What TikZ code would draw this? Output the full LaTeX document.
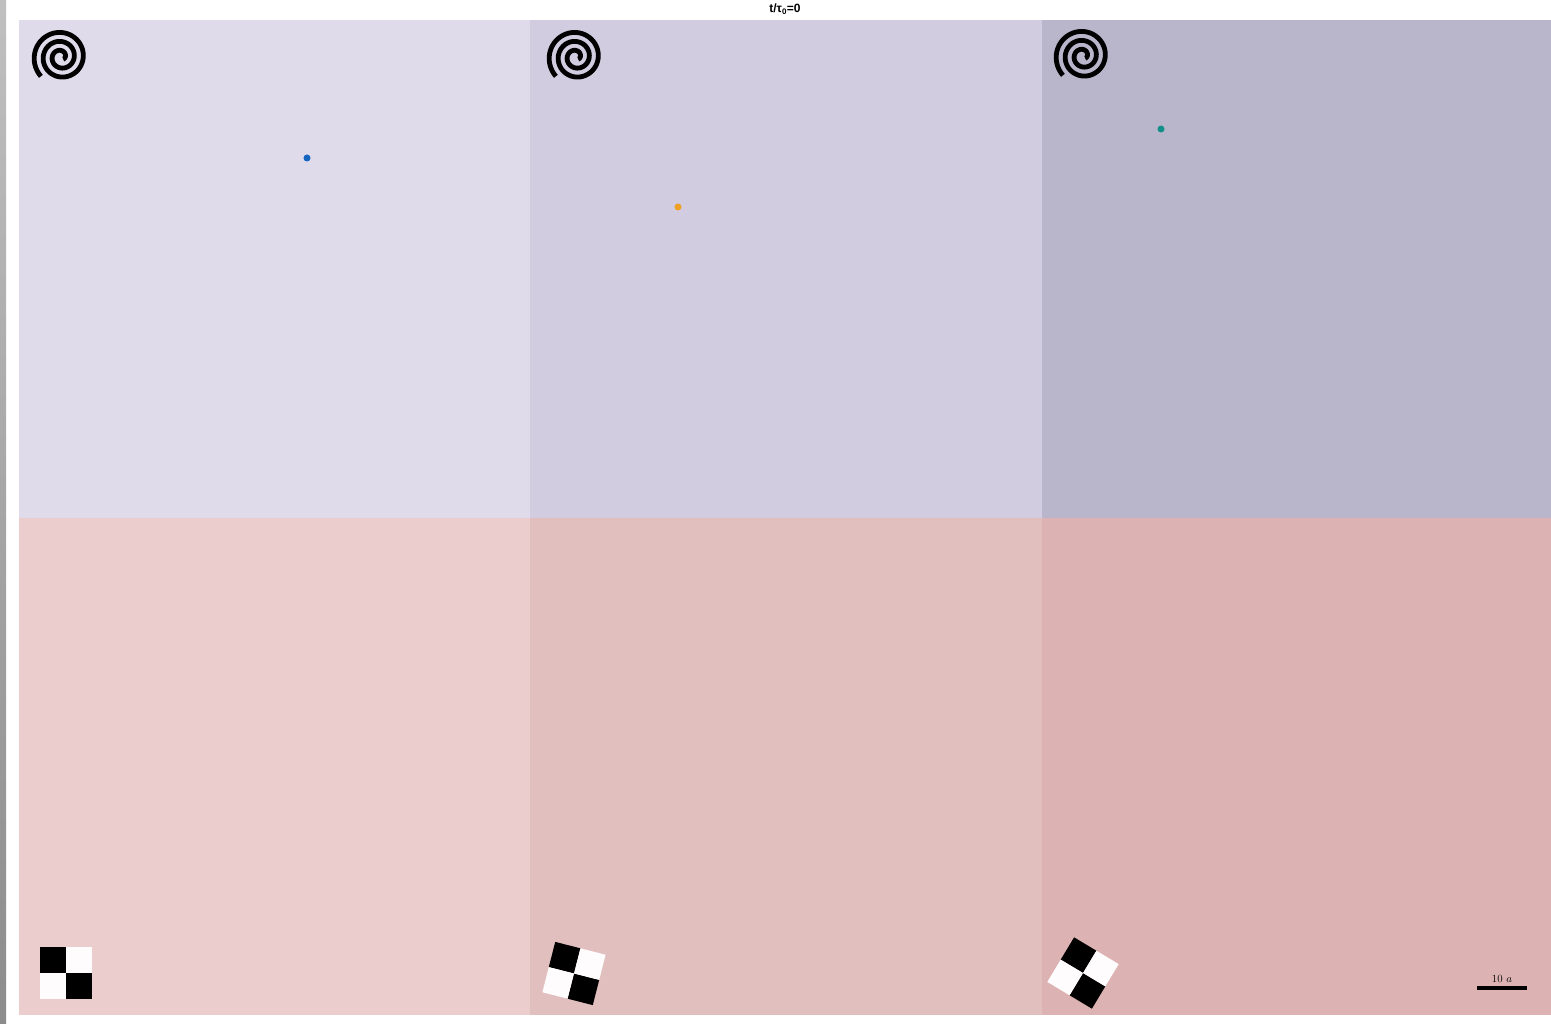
\documentclass[tikz,border=0pt]{standalone}
\usepackage{fontspec}
\newfontfamily\titlefont{Liberation Sans}
\definecolor{tA}{HTML}{DFDBEA}
\definecolor{tB}{HTML}{D1CCDF}
\definecolor{tC}{HTML}{B9B6CC}
\definecolor{bA}{HTML}{EBCDCD}
\definecolor{bB}{HTML}{E2BFBF}
\definecolor{bC}{HTML}{DCB3B2}
\definecolor{dotblue}{HTML}{1565C0}
\definecolor{dotorange}{HTML}{F0A020}
\definecolor{dotteal}{HTML}{128F88}
\definecolor{offwhite}{HTML}{FEFCFC}
\tikzset{
  spiralline/.style={line width=4.8pt, black},
  dotmark/.style={circle, inner sep=0pt, minimum size=7pt},
  blk/.style={fill=black},
  wht/.style={fill=offwhite},
}
\newcommand{\myspiral}[2]{%
  \draw[spiralline] plot[domain=0.35:3.1, samples=220, smooth, variable=\t]
    ({#1 + 9*\t*cos(171-360*\t)}, {#2 + 9*\t*sin(171-360*\t)});}
\newcommand{\mychecker}[3]{%
  \begin{scope}[shift={(#1,#2)}, rotate=#3]
    \fill[blk] (-26,-26) rectangle (0,0);
    \fill[blk] (0,0) rectangle (26,26);
    \fill[wht] (0,-26) rectangle (26,0);
    \fill[wht] (-26,0) rectangle (0,26);
  \end{scope}}
\begin{document}
\begin{tikzpicture}[x=1pt,y=-1pt]
\useasboundingbox (0,0) rectangle (1551,1024);
\fill[white] (0,0) rectangle (1551,1024);
\shade[top color=black!25, bottom color=black!45] (0,0) rectangle (6,1024);
% panels
\fill[tA] (19,20) rectangle (530,518);
\fill[tB] (530,20) rectangle (1042,518);
\fill[tC] (1042,20) rectangle (1551,518);
\fill[bA] (19,518) rectangle (530,1015);
\fill[bB] (530,518) rectangle (1042,1015);
\fill[bC] (1042,518) rectangle (1551,1015);
% title
\node[font=\titlefont\bfseries\fontsize{12}{14}\selectfont] (title) at (785,9) {t/τ\textsubscript{0}=0};
% spirals
\myspiral{61}{57}
\myspiral{576}{57}
\myspiral{1083}{56}
% dots
\node[dotmark, fill=dotblue] (dotA) at (307,158) {};
\node[dotmark, fill=dotorange] (dotB) at (678,207) {};
\node[dotmark, fill=dotteal] (dotC) at (1161,129) {};
% checkerboards
\mychecker{66}{973}{0}
\mychecker{574}{973.5}{-14.3}
\mychecker{1083}{973}{-31}
% scale bar
\coordinate (sbl) at (1477,988);
\coordinate (sbr) at (1527,988);
\draw[line width=3.5pt] (sbl) -- (sbr);
\node[font=\fontsize{11}{13}\selectfont, inner sep=0pt] (sblabel) at (1502,979) {10 $a$};
\end{tikzpicture}
\end{document}
